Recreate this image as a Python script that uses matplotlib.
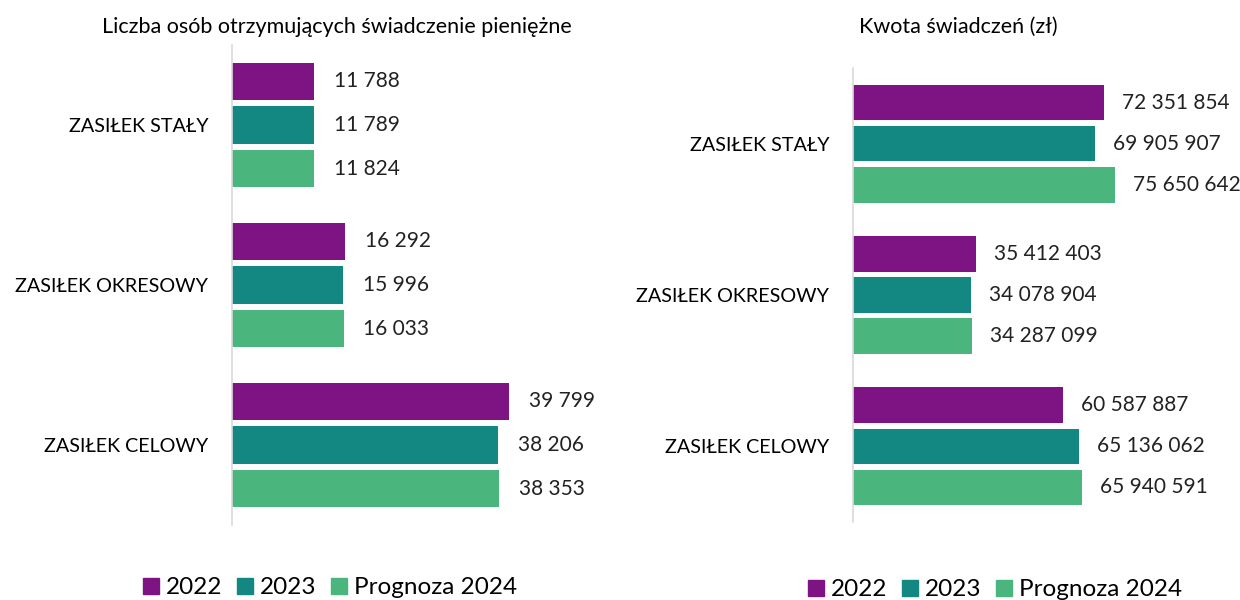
import matplotlib
matplotlib.use('Agg')
import matplotlib.pyplot as plt
from matplotlib.patches import Patch

plt.rcParams['font.family'] = ['Lato', 'DejaVu Sans']

categories = ['ZASIŁEK STAŁY', 'ZASIŁEK OKRESOWY', 'ZASIŁEK CELOWY']
series_names = ['2022', '2023', 'Prognoza 2024']
colors = ['#7e1483', '#138882', '#4bb57e']

osoby = {
    '2022': [11788, 16292, 39799],
    '2023': [11789, 15996, 38206],
    'Prognoza 2024': [11824, 16033, 38353],
}
kwota = {
    '2022': [72351854, 35412403, 60587887],
    '2023': [69905907, 34078904, 65136062],
    'Prognoza 2024': [75650642, 34287099, 65940591],
}

W, H = 1240, 600


def fmt(v):
    return f'{v:,}'.replace(',', ' ')


def draw_panel(ax, data, xmax, label_gap):
    for i, name in enumerate(series_names):
        for j, v in enumerate(data[name]):
            y = j + 0.5 + (i - 1) * 0.272
            ax.barh(y, v, height=0.235, color=colors[i])
            ax.text(v + label_gap, y, fmt(v), va='center', ha='left',
                    fontsize=15, color='#222222')
    ax.set_xlim(0, xmax)
    ax.set_ylim(3, 0)
    ax.set_yticks([0.5, 1.5, 2.5])
    ax.set_yticklabels(categories, fontsize=14.2)
    ax.tick_params(axis='y', length=0, pad=17)
    ax.set_xticks([])
    for s in ['top', 'right', 'bottom']:
        ax.spines[s].set_visible(False)
    ax.spines['left'].set_color('#d9d9d9')
    ax.spines['left'].set_linewidth(1.2)


fig = plt.figure(figsize=(12.4, 6), dpi=100)

ax1 = fig.add_axes([232 / W, (H - 525) / H, 348 / W, 480 / H])
draw_panel(ax1, osoby, 50000, 2850)

ax2 = fig.add_axes([853 / W, (H - 522) / H, 370 / W, 454 / H])
draw_panel(ax2, kwota, 106.7e6, 5.2e6)

fig.text(337 / W, 1 - 27 / H, 'Liczba osób otrzymujących świadczenie pieniężne',
         ha='center', va='center', fontsize=15.5)
fig.text(958 / W, 1 - 27 / H, 'Kwota świadczeń (zł)',
         ha='center', va='center', fontsize=15.5)

handles = [Patch(color=c, label=n) for c, n in zip(colors, series_names)]
for cx, cy in [(330, 588), (995, 590)]:
    fig.legend(handles=handles, loc='center', bbox_to_anchor=(cx / W, 1 - cy / H),
               ncol=3, frameon=False, fontsize=17.5, handlelength=0.65,
               handleheight=0.65, handletextpad=0.3, columnspacing=0.6,
               borderpad=0)

fig.savefig('out.png', dpi=100)
